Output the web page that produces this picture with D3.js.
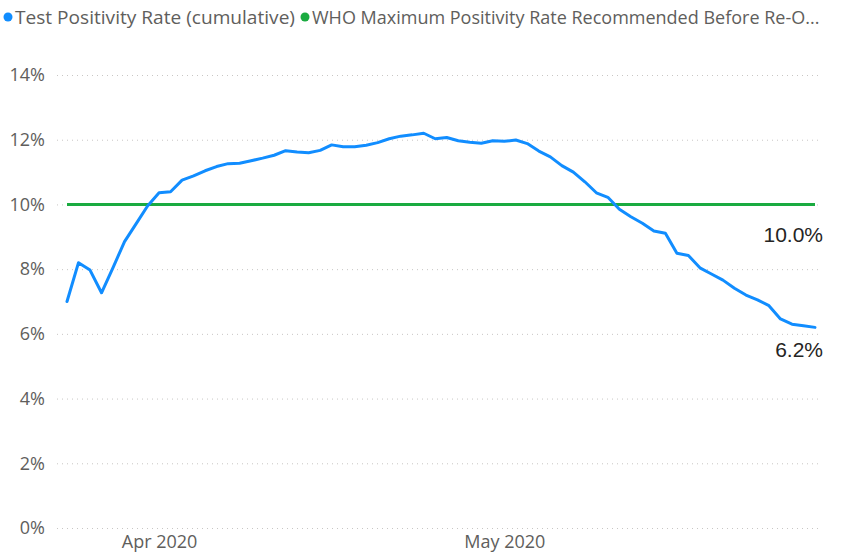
<!DOCTYPE html>
<html>
<head>
<meta charset="utf-8">
<script src="https://cdn.jsdelivr.net/npm/d3@7"></script>
<style>
  html, body { margin: 0; padding: 0; background: #fff; }
  svg { display: block; }
  text { font-family: "Open Sans", "Noto Sans", sans-serif; }
</style>
</head>
<body>
<svg id="chart" width="845" height="556"></svg>
<script>
const startDate = "2020-03-24";
const positivityRate = [
  7.0, 8.2, 7.97, 7.27, 8.05, 8.85, 9.4, 9.95, 10.36, 10.39,
  10.75, 10.88, 11.04, 11.17, 11.26, 11.27, 11.35, 11.43, 11.52, 11.66,
  11.62, 11.60, 11.67, 11.84, 11.78, 11.78, 11.83, 11.91, 12.03, 12.11,
  12.15, 12.20, 12.03, 12.07, 11.97, 11.92, 11.89, 11.97, 11.95, 11.99,
  11.88, 11.65, 11.47, 11.20, 11.0, 10.70, 10.36, 10.22, 9.85, 9.62,
  9.42, 9.18, 9.11, 8.49, 8.42, 8.04, 7.85, 7.66, 7.41, 7.20,
  7.05, 6.87, 6.46, 6.30, 6.25, 6.20
];
const whoMax = 10.0;
const yTicks = [0, 2, 4, 6, 8, 10, 12, 14];
const xTickDates = ["2020-04-01", "2020-05-01"];
const xTickLabels = ["Apr 2020", "May 2020"];
const seriesNames = ["Test Positivity Rate (cumulative)", "WHO Maximum Positivity Rate Recommended Before Re-O..."];
const seriesColors = ["#118DFF", "#1AAB40"];
const endLabels = ["10.0%", "6.2%"];

const parse = d3.utcParse("%Y-%m-%d");
const t0 = parse(startDate);
const data = positivityRate.map((v, i) => ({ date: d3.utcDay.offset(t0, i), value: v }));
const whoData = data.map(d => ({ date: d.date, value: whoMax }));

const svg = d3.select("#chart");

const x = d3.scaleUtc()
  .domain(d3.extent(data, d => d.date))
  .range([67, 815]);
const y = d3.scaleLinear().domain([0, 14]).range([528, 75]);

// Gridlines + y labels
const yAxis = d3.axisLeft(y)
  .tickValues(yTicks)
  .tickFormat(d => d + "%")
  .tickSize(-(822 - 57))
  .tickPadding(12);
const gy = svg.append("g").attr("transform", "translate(57,0)").call(yAxis);
gy.select(".domain").remove();
gy.selectAll(".tick line")
  .attr("stroke", "#C8C6C4")
  .attr("stroke-width", 1)
  .attr("stroke-dasharray", "1,4");
gy.selectAll(".tick text")
  .attr("fill", "#605E5C")
  .style("font-size", "18px");

// X axis labels
const xAxis = d3.axisBottom(x)
  .tickValues(xTickDates.map(parse))
  .tickFormat((d, i) => xTickLabels[i])
  .tickSize(0)
  .tickPadding(0);
const gx = svg.append("g").attr("transform", "translate(0,532)").call(xAxis);
gx.select(".domain").remove();
gx.selectAll(".tick text")
  .attr("fill", "#605E5C")
  .attr("dy", "0.9em")
  .style("font-size", "18px");

// Lines
const line = d3.line().x(d => x(d.date)).y(d => y(d.value));
svg.append("path").datum(whoData)
  .attr("fill", "none").attr("stroke", seriesColors[1]).attr("stroke-width", 3)
  .attr("d", line);
svg.append("path").datum(data)
  .attr("fill", "none").attr("stroke", seriesColors[0]).attr("stroke-width", 3)
  .attr("stroke-linejoin", "round").attr("stroke-linecap", "round")
  .attr("d", line);

// End labels
const last = data[data.length - 1];
const endLab = svg.append("g");
endLab.append("text")
  .attr("x", x(last.date) + 8).attr("y", y(whoMax) + 38)
  .attr("text-anchor", "end").attr("fill", "#252423")
  .style("font-family", "'Liberation Sans', Arial, sans-serif")
  .style("font-size", "21px").text(endLabels[0]);
endLab.append("text")
  .attr("x", x(last.date) + 8).attr("y", y(last.value) + 29.5)
  .attr("text-anchor", "end").attr("fill", "#252423")
  .style("font-family", "'Liberation Sans', Arial, sans-serif")
  .style("font-size", "21px").text(endLabels[1]);

// Legend
const leg = svg.append("g");
const legX = [8, 305];
seriesNames.forEach((name, i) => {
  leg.append("circle").attr("cx", legX[i]).attr("cy", 17).attr("r", 4.5).attr("fill", seriesColors[i]);
  const t = leg.append("text").attr("x", legX[i] + 7).attr("y", 23.5)
    .attr("fill", "#605E5C").style("font-size", "18px")
    .text(name);
  if (i === 0) t.attr("textLength", 280).attr("lengthAdjust", "spacingAndGlyphs");
});
</script>
</body>
</html>
